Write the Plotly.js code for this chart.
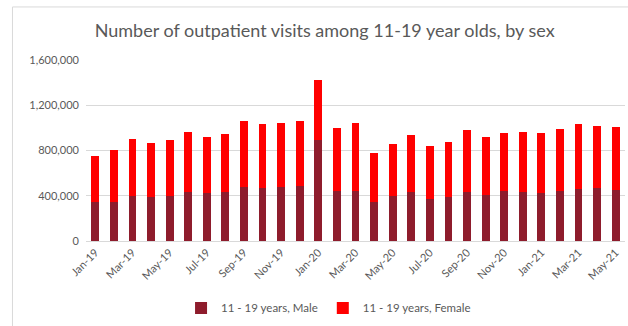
<!DOCTYPE html>
<html><head><meta charset="utf-8">
<script src="https://cdn.plot.ly/plotly-3.0.1.min.js"></script>
<style>html,body{margin:0;padding:0;background:#fff}#chart{width:628px;height:326px}</style>
</head><body><div id="chart"></div>
<script>
var months = ["Jan-19","Feb-19","Mar-19","Apr-19","May-19","Jun-19","Jul-19","Aug-19","Sep-19","Oct-19","Nov-19","Dec-19",
"Jan-20","Feb-20","Mar-20","Apr-20","May-20","Jun-20","Jul-20","Aug-20","Sep-20","Oct-20","Nov-20","Dec-20",
"Jan-21","Feb-21","Mar-21","Apr-21","May-21"];
var maleVisits = [346000,346000,402000,390000,402000,432000,420000,432000,479000,467000,479000,484000,
895000,440000,440000,346000,402000,432000,373000,390000,432000,408000,440000,432000,
420000,440000,461000,467000,455000];
var femaleVisits = [408000,455000,499000,476000,491000,531000,499000,513000,581000,566000,560000,579000,
526000,558000,602000,432000,455000,508000,464000,488000,546000,514000,514000,534000,
531000,549000,570000,552000,555000];
var tickLabels = months.filter(function(m,i){return i%2===0;});
var seriesNames = ["11 - 19 years, Male","11 - 19 years, Female"];

var traces = [
 {type:'bar', name:seriesNames[0], x:months, y:maleVisits, marker:{color:'#8E1C2C'}},
 {type:'bar', name:seriesNames[1], x:months, y:femaleVisits, marker:{color:'#FF0000'}}
];
var grey='#595959';
var layout = {
 width:628, height:326, barmode:'stack', bargap:0.58,
 margin:{l:86,r:3,t:60,b:85},
 paper_bgcolor:'#fff', plot_bgcolor:'#fff',
 font:{family:'Lato, "Open Sans", sans-serif', color:grey, size:11},
 title:{text:'Number of outpatient visits among 11-19 year olds, by sex', font:{size:18, color:grey, family:'Lato, sans-serif'}, x:0.517, xanchor:'center', y:0.905, yanchor:'middle'},
 xaxis:{type:'category', tickvals:tickLabels, ticktext:tickLabels, tickangle:-45, showgrid:false,
   showline:true, linecolor:'#d9d9d9', ticks:'', tickfont:{size:11,color:grey}},
 yaxis:{range:[0,1600000], dtick:400000, tickformat:',', showgrid:true, gridcolor:'#d9d9d9', zeroline:false,
   showline:false, tickfont:{size:11,color:grey}, ticklabelstandoff:6},
 showlegend:true,
 legend:{orientation:'h', x:0.45, xanchor:'center', y:-0.37, yanchor:'middle', font:{size:11.5,color:grey}, traceorder:'normal', itemwidth:30},
 shapes:[{type:'rect', xref:'paper', yref:'paper', x0:-0.1364, x1:1.2, y0:-1, y1:1.293, line:{color:'#d9d9d9', width:1}, layer:'below'}]
};
Plotly.newPlot('chart', traces, layout, {staticPlot:true, displayModeBar:false});
</script></body></html>
